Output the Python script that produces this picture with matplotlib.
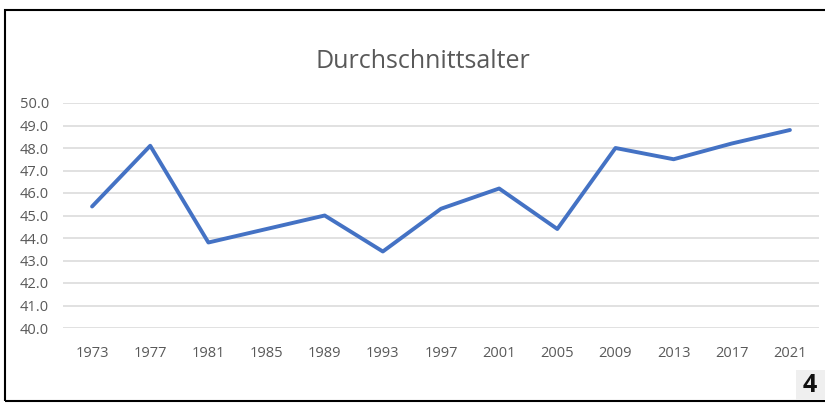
import matplotlib.pyplot as plt
from matplotlib.patches import Rectangle

# ================= DATA =================

years = ["1973", "1977", "1981", "1985", "1989", "1993", "1997",
         "2001", "2005", "2009", "2013", "2017", "2021"]
avg_age = [45.4, 48.1, 43.8, 44.4, 45.0, 43.4, 45.3,
           46.2, 44.4, 48.0, 47.5, 48.2, 48.8]
y_ticks = [40, 41, 42, 43, 44, 45, 46, 47, 48, 49, 50]

title = "Durchschnittsalter"
page_no = "4"

# ================= PLOT =================

W, H = 825, 403
plt.rcParams["font.family"] = ["Open Sans", "DejaVu Sans"]
txt_color = "#595959"

fig = plt.figure(figsize=(W / 100, H / 100), dpi=100)
ax = fig.add_axes([63 / W, 1 - 328 / H, (819 - 63) / W, (328 - 103) / H])

x = list(range(len(years)))
ax.plot(x, avg_age, color="#4472C4", lw=2.8, solid_capstyle="round",
        solid_joinstyle="round", zorder=3)

ax.set_xlim(-0.5, len(years) - 0.5)
ax.set_ylim(40, 50)
ax.set_yticks(y_ticks)
ax.set_yticklabels([f"{v:.1f}" for v in y_ticks])
ax.set_xticks(x)
ax.set_xticklabels(years)

ax.grid(axis="y", color="#D9D9D9", lw=1.1)
ax.set_axisbelow(True)
for s in ax.spines.values():
    s.set_visible(False)
ax.tick_params(length=0, colors=txt_color, labelsize=10.5)
ax.tick_params(axis="x", pad=13)
ax.tick_params(axis="y", pad=10)

fig.text(0.513, 1 - 62 / H, title, ha="center", va="center",
         fontsize=18, color=txt_color)

# frame round the chart (right edge runs off the crop)
fig.add_artist(Rectangle((5 / W, 1 - 401 / H), 1.0, (401 - 10) / H,
                         transform=fig.transFigure, fill=False,
                         edgecolor="black", lw=1.5))

# page number box
fig.add_artist(Rectangle((796 / W, 1 - 400 / H), 29 / W, 30 / H,
                         transform=fig.transFigure, facecolor="#EFEFEF",
                         edgecolor="none"))
fig.text(810 / W, 1 - 385 / H, page_no, ha="center", va="center",
         fontsize=18, fontweight="bold", color="#111111")

fig.savefig("out.png", dpi=100)
